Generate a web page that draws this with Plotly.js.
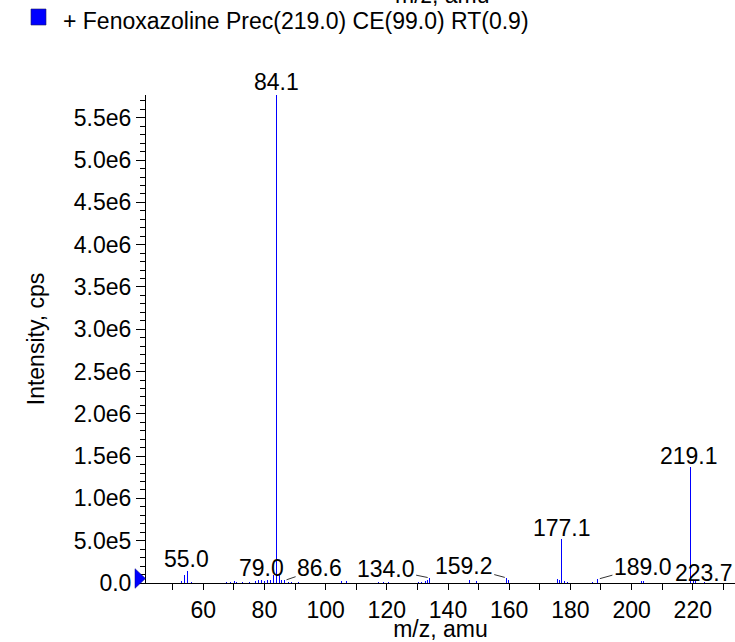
<!DOCTYPE html>
<html>
<head>
<meta charset="utf-8">
<script src="https://cdn.plot.ly/plotly-3.0.1.min.js"></script>
<style>html,body{margin:0;padding:0;background:#fff;}#chart{width:735px;height:642px;}
.scatterlayer .js-line{shape-rendering:crispEdges;}</style>
</head>
<body>
<div id="chart"></div>
<script>
// ---- data ----
const mz = [52.9, 54.0, 55.0, 56.1, 67.5, 69.0, 70.1, 71.0, 72.9, 75.0, 77.1, 78.0, 79.0, 80.0, 81.1, 82.1, 83.0, 84.1, 84.9, 85.6, 86.6, 87.8, 89.0, 91.0,
            105.2, 106.9, 117.4, 119.0, 120.6, 130.4, 131.5, 132.5, 133.3, 134.0, 147.0, 149.4, 159.2, 159.9,
            175.8, 176.3, 177.1, 178.0, 179.0, 187.2, 189.0, 203.2, 204.0, 219.1, 220.1, 221.0, 223.7];
const intensity = [0.02e6, 0.10e6, 0.14e6, 0.01e6, 0.01e6, 0.015e6, 0.02e6, 0.01e6, 0.015e6, 0.01e6, 0.02e6, 0.03e6, 0.03e6, 0.025e6, 0.04e6, 0.03e6, 0.10e6, 5.77e6, 0.10e6, 0.04e6, 0.03e6, 0.015e6, 0.01e6, 0.01e6,
            0.02e6, 0.02e6, 0.01e6, 0.012e6, 0.01e6, 0.01e6, 0.015e6, 0.02e6, 0.03e6, 0.06e6, 0.03e6, 0.02e6, 0.06e6, 0.03e6,
            0.05e6, 0.04e6, 0.523e6, 0.02e6, 0.015e6, 0.01e6, 0.045e6, 0.025e6, 0.025e6, 1.377e6, 0.035e6, 0.025e6, 0.01e6];
const labelMz = [55.0, 79.0, 84.1, 86.6, 134.0, 159.2, 177.1, 189.0, 219.1, 223.7];
const labelText = ['55.0', '79.0', '84.1', '86.6', '134.0', '159.2', '177.1', '189.0', '219.1', '223.7'];
const yTickVals = [0, 0.5e6, 1.0e6, 1.5e6, 2.0e6, 2.5e6, 3.0e6, 3.5e6, 4.0e6, 4.5e6, 5.0e6, 5.5e6];
const yTickText = ['0.0', '5.0e5', '1.0e6', '1.5e6', '2.0e6', '2.5e6', '3.0e6', '3.5e6', '4.0e6', '4.5e6', '5.0e6', '5.5e6'];
const seriesName = '+ Fenoxazoline Prec(219.0) CE(99.0) RT(0.9)';
const xTitle = 'm/z, amu';
const yTitle = 'Intensity, cps';

// ---- layout helpers (pixel placement) ----
const W = 735, H = 642;
const M = {l: 146, r: 0, t: 95, b: 59};
const plotW = W - M.l - M.r, plotH = H - M.t - M.b;
const px = x => (x - M.l) / plotW;
const py = y => (H - M.b - y) / plotH;
const FONT = '"Liberation Sans", Arial, Helvetica, sans-serif';
const FS = 23;

// stick spectrum built from the data arrays
const sx = [], sy = [];
mz.forEach((m, i) => { sx.push(m, m, null); sy.push(0, intensity[i], null); });

// label placement (pixel offsets, not data)
const labelStyle = {
  '55.0':  {dx: -1, dy: 12},
  '79.0':  {dx: 0, dy: 12},
  '84.1':  {dx: 0, dy: 13},
  '86.6':  {arrow: true, ax: 35, ay: -12},
  '134.0': {arrow: true, ax: -44, ay: -9},
  '159.2': {arrow: true, ax: -43, ay: -11.5},
  '177.1': {dx: 0, dy: 11},
  '189.0': {arrow: true, ax: 45, ay: -12.5},
  '219.1': {dx: -1, dy: 11},
  '223.7': {dx: 0, dy: 9}
};

const annotations = labelMz.map((m, i) => {
  const idx = mz.indexOf(m);
  const h = intensity[idx];
  const s = labelStyle[labelText[i]];
  const base = {x: m, y: h, xref: 'x', yref: 'y', text: labelText[i],
    font: {family: FONT, size: FS, color: '#000'}};
  if (s.arrow) {
    return Object.assign(base, {showarrow: true, arrowhead: 0, arrowwidth: 0.8, arrowcolor: '#000',
      ax: s.ax, ay: s.ay, standoff: 2});
  }
  return Object.assign(base, {showarrow: false, xshift: s.dx, yshift: s.dy, yanchor: 'middle'});
});

// legend text
annotations.push({xref: 'paper', yref: 'paper', x: px(61), y: py(21), xanchor: 'left', yanchor: 'middle',
  text: seriesName, showarrow: false, font: {family: FONT, size: FS, color: '#000'}});
// cut-off top axis title
annotations.push({xref: 'paper', yref: 'paper', x: px(442), y: py(-5), xanchor: 'center', yanchor: 'middle',
  text: xTitle, showarrow: false, font: {family: FONT, size: FS, color: '#000'}});

const shapes = [
  {type: 'rect', xref: 'paper', yref: 'paper', x0: px(31), x1: px(46), y0: py(25), y1: py(9),
   fillcolor: '#0000ff', line: {color: '#202060', width: 0.6}},
  {type: 'path', xref: 'paper', yref: 'paper',
   path: `M ${px(135)} ${py(568.7)} L ${px(145.5)} ${py(578.5)} L ${px(135)} ${py(588.3)} Z`,
   fillcolor: '#0000ff', line: {color: '#000080', width: 0.5}}
];

const data = [{
  type: 'scatter', mode: 'lines', x: sx, y: sy, name: seriesName,
  line: {color: '#0000ff', width: 1}, hoverinfo: 'skip', showlegend: false
}];

const layout = {
  width: W, height: H,
  margin: M,
  paper_bgcolor: '#fff', plot_bgcolor: '#fff',
  showlegend: false,
  font: {family: FONT, size: FS, color: '#000'},
  xaxis: {
    range: [41.3, 233.8], tick0: 0, dtick: 20, ticks: 'outside', ticklen: 6, tickwidth: 1, tickcolor: '#000',
    minor: {dtick: 10, ticks: 'outside', ticklen: 6, tickwidth: 1, tickcolor: '#000'},
    showline: true, linecolor: '#000', linewidth: 1, showgrid: false, zeroline: false,
    tickfont: {family: FONT, size: FS, color: '#000'},
    title: {text: xTitle, font: {family: FONT, size: FS, color: '#000'}, standoff: 0}
  },
  yaxis: {
    range: [0, 5.77e6], tickmode: 'array', tickvals: yTickVals, ticktext: yTickText,
    ticks: 'outside', ticklen: 9, tickwidth: 1, tickcolor: '#000',
    minor: {dtick: 1e5, tick0: 0, ticks: 'outside', ticklen: 5, tickwidth: 1, tickcolor: '#000'},
    showline: true, linecolor: '#000', linewidth: 1, showgrid: false, zeroline: false,
    tickfont: {family: FONT, size: FS, color: '#000'},
    title: {text: yTitle, font: {family: FONT, size: FS, color: '#000'}, standoff: 22}
  },
  annotations: annotations,
  shapes: shapes
};

Plotly.newPlot('chart', data, layout, {staticPlot: true, displayModeBar: false});
</script>
</body>
</html>
